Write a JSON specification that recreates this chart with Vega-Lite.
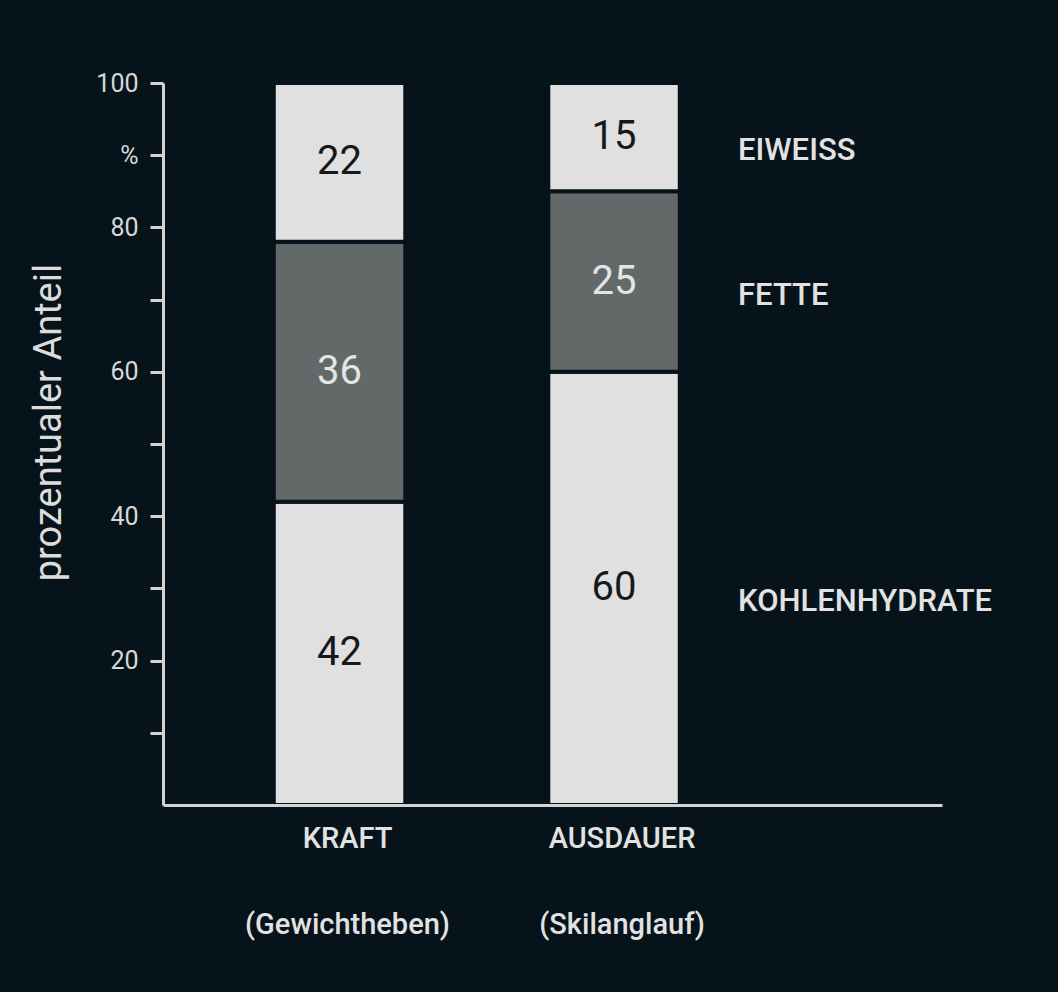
{
  "$schema": "https://vega.github.io/schema/vega-lite/v6.json",
  "width": 779,
  "height": 722,
  "autosize": "none",
  "padding": {"left": 163, "top": 83, "right": 116, "bottom": 187},
  "background": "#06131a",
  "config": {
    "view": {"stroke": null},
    "font": "Roboto"
  },
  "data": {
    "values": [
      {"Sport": "KRAFT", "Naehrstoff": "KOHLENHYDRATE", "Anteil": 42},
      {"Sport": "KRAFT", "Naehrstoff": "FETTE", "Anteil": 36},
      {"Sport": "KRAFT", "Naehrstoff": "EIWEISS", "Anteil": 22},
      {"Sport": "AUSDAUER", "Naehrstoff": "KOHLENHYDRATE", "Anteil": 60},
      {"Sport": "AUSDAUER", "Naehrstoff": "FETTE", "Anteil": 25},
      {"Sport": "AUSDAUER", "Naehrstoff": "EIWEISS", "Anteil": 15}
    ]
  },
  "transform": [
    {"stack": "Anteil", "groupby": ["Sport"], "sort": [{"field": "Naehrstoff", "order": "descending"}], "as": ["y0", "y1"]},
    {"calculate": "(datum.y0 + datum.y1) / 2", "as": "ymid"}
  ],
  "encoding": {
    "x": {
      "field": "Sport",
      "type": "nominal",
      "sort": ["KRAFT", "AUSDAUER"],
      "scale": {"paddingInner": 0.521, "paddingOuter": 0.6794, "align": 0.297},
      "axis": {
        "title": null,
        "ticks": false,
        "domainColor": "#d2d4d4",
        "domainWidth": 3,
        "zindex": 1,
        "labelAngle": 0,
        "labelFont": "Roboto",
        "labelFontSize": 29,
        "labelFontWeight": 500,
        "labelColor": "#e2e2e2",
        "labelLineHeight": 86,
        "labelPadding": 19,
        "labelOffset": 8,
        "labelLimit": 0,
        "labelExpr": "datum.value == 'KRAFT' ? ['KRAFT', '(Gewichtheben)'] : ['AUSDAUER', '(Skilanglauf)']"
      }
    }
  },
  "layer": [
    {
      "mark": {"type": "bar", "stroke": "#06131a", "strokeWidth": 4},
      "encoding": {
        "y": {
          "field": "y1",
          "type": "quantitative",
          "scale": {"domain": [0, 100], "nice": false},
          "axis": {
            "title": "prozentualer Anteil",
            "titleFont": "Roboto",
            "titleFontSize": 38,
            "titleFontWeight": 400,
            "titleColor": "#dcdcdc",
            "titleX": -114,
            "titleY": 339,
            "titleAlign": "center",
            "titleBaseline": "middle",
            "titleAngle": -90,
            "values": [10, 20, 30, 40, 50, 60, 70, 80, 90, 100],
            "labelExpr": "datum.value == 90 ? '%' : (datum.value % 20 == 0 ? datum.label : '')",
            "labelFont": "Roboto",
            "labelFontSize": 25,
            "labelColor": "#d6d8d8",
            "labelPadding": 12,
            "tickSize": 13,
            "tickWidth": 3,
            "tickColor": "#d2d4d4",
            "domainColor": "#d2d4d4",
            "domainWidth": 3,
            "grid": false,
            "zindex": 1
          }
        },
        "y2": {"field": "y0"},
        "color": {
          "field": "Naehrstoff",
          "type": "nominal",
          "scale": {"domain": ["KOHLENHYDRATE", "FETTE", "EIWEISS"], "range": ["#e0e0e0", "#636868", "#e0e0e0"]},
          "legend": null
        }
      }
    },
    {
      "mark": {"type": "text", "font": "Roboto", "fontSize": 40, "baseline": "middle", "align": "center"},
      "encoding": {
        "y": {"field": "ymid", "type": "quantitative"},
        "text": {"field": "Anteil", "type": "quantitative"},
        "color": {
          "condition": {"test": "datum.Naehrstoff == 'FETTE'", "value": "#e4e4e4"},
          "value": "#16191b"
        }
      }
    },
    {
      "transform": [{"filter": "datum.Sport == 'AUSDAUER'"}],
      "mark": {"type": "text", "font": "Roboto", "fontSize": 31, "fontWeight": 500, "align": "left", "baseline": "middle", "dx": 124, "dy": 14, "color": "#e2e2e2"},
      "encoding": {
        "y": {"field": "ymid", "type": "quantitative"},
        "text": {"field": "Naehrstoff", "type": "nominal"}
      }
    }
  ]
}
